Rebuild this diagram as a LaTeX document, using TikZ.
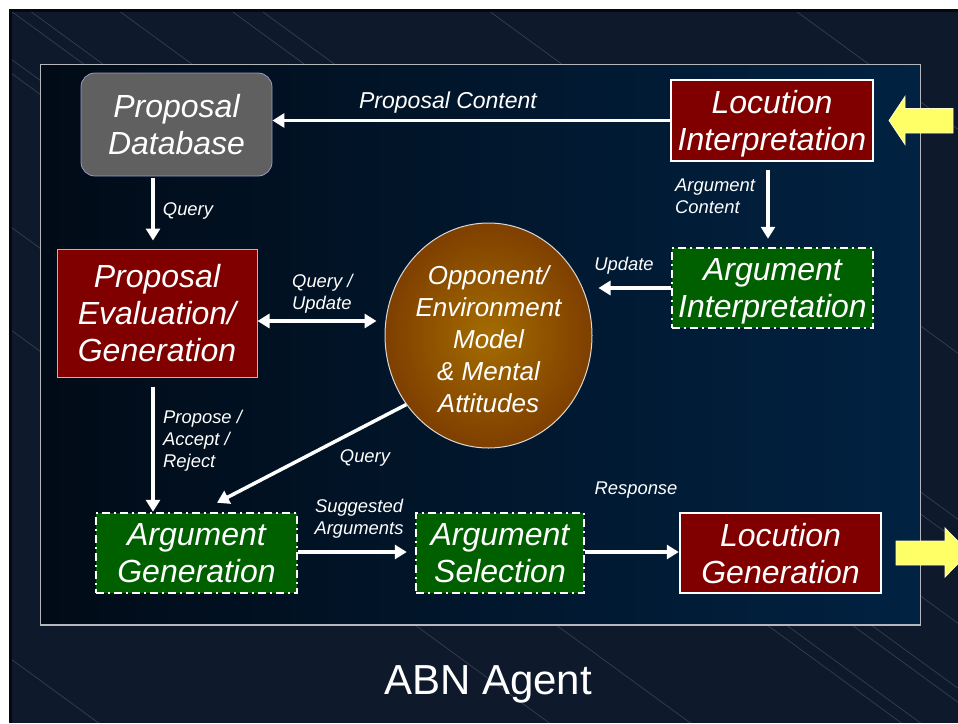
\documentclass[tikz,border=0pt]{standalone}
\usepackage{fontspec}
\setmainfont{Liberation Sans}
\usetikzlibrary{arrows.meta,calc,shapes.geometric}

\definecolor{slidebg}{HTML}{0E1A2B}
\definecolor{slideedge}{HTML}{05080C}
\definecolor{panelL}{HTML}{010B17}
\definecolor{panelR}{HTML}{012242}
\definecolor{panelrim}{HTML}{B4B8BC}
\definecolor{boxred}{HTML}{800000}
\definecolor{boxgreen}{HTML}{006000}
\definecolor{boxgray}{HTML}{606060}
\definecolor{modelin}{HTML}{A46C00}
\definecolor{modelout}{HTML}{7E3F00}
\definecolor{signal}{HTML}{FFFF66}

\tikzset{
  boxtext/.style={text=white, align=center, inner sep=0pt, text depth=0pt,
    font=\fontsize{32}{37}\selectfont\itshape},
  redbox/.style={boxtext, fill=boxred, draw=white, line width=2.5pt},
  evalbox/.style={boxtext, fill=boxred, draw=panelrim, line width=1pt},
  greenbox/.style={boxtext, fill=boxgreen, draw=white, line width=2.5pt,
    dash pattern=on 8pt off 4pt on 2pt off 4pt},
  graybox/.style={boxtext, fill=boxgray, draw=black!60!blue!40, line width=0.8pt,
    rounded corners=14pt},
  modelnode/.style={ellipse, inner sep=0pt, draw=white!85!black, line width=1pt,
    inner color=modelin, outer color=modelout},
  modeltext/.style={text=white, align=center, inner sep=0pt,
    font=\fontsize{26}{32}\selectfont\itshape},
  flow/.style={draw=white, line width=3.5pt, -{Triangle[length=12pt,width=14pt]}},
  flowboth/.style={draw=white, line width=3.5pt,
    {Triangle[length=12pt,width=14pt]}-{Triangle[length=12pt,width=14pt]}},
  lbl/.style={text=white, inner sep=0pt, font=\fontsize{18.4}{22}\selectfont\itshape},
  biglbl/.style={text=white, inner sep=0pt, font=\fontsize{23}{27}\selectfont\itshape},
  bgline/.style={draw=white, opacity=0.16, line width=0.7pt},
  signalarrow/.style={fill=signal, draw=white!80!yellow, line width=0.8pt}
}

\begin{document}
\begin{tikzpicture}[x=1pt,y=-1pt]
\useasboundingbox (0,0) rectangle (958,723);

% slide backdrop
\fill[white] (0,0) rectangle (958,723);
\fill[slideedge] (9,9) rectangle (958,723);
\fill[slidebg] (12,12) rectangle (958,723);
\begin{scope}
  \clip (12,12) rectangle (958,723);
  \foreach \c in {-570,-346,-180,-158,-76,-11,51,219,322,651,3,65}
    \draw[bgline] (0,\c) -- (958,{0.73*958+\c});
\end{scope}

% agent panel
\shade[left color=panelL, right color=panelR] (40.5,64.5) rectangle (920.5,625);
\draw[panelrim, line width=1.5pt] (40.5,64.5) rectangle (920.5,625);

% components
\node[graybox, minimum width=191pt, minimum height=103pt] (pdb) at (176.5,124.5)
  {Proposal\\Database};
\node[redbox, minimum width=202pt, minimum height=81pt] (li) at (772,120.5)
  {Locution\\Interpretation};
\node[evalbox, minimum width=200pt, minimum height=128pt] (pe) at (157,313)
  {Proposal\\Evaluation/\\Generation};
\node[greenbox, minimum width=201pt, minimum height=80pt] (ai) at (772.5,288)
  {Argument\\Interpretation};
\node[modelnode, minimum width=207pt, minimum height=225pt] (ell) at (488.5,335.5) {};
\node[modeltext] (elltext) at ($(ell.center)+(0,3.5)$)
  {Opponent/\\Environment\\Model\\\& Mental\\Attitudes};
\node[greenbox, minimum width=201pt, minimum height=80pt] (ag) at (196.5,553)
  {Argument\\Generation};
\node[greenbox, minimum width=168pt, minimum height=80pt] (as) at (500,553)
  {Argument\\Selection};
\node[redbox, minimum width=201pt, minimum height=80pt] (lg) at (780.5,553)
  {Locution\\Generation};

% connector end points
\coordinate (pdbout) at ($(pdb.south)+(-23.5,0)$);
\coordinate (liout)  at ($(li.south)+(-4,0)$);
\coordinate (peside) at ($(pe.east)+(0,8)$);
\coordinate (peout)  at ($(pe.south)+(-4,0)$);
\coordinate (agin)   at ($(ag.north)+(20.5,-9)$);
\coordinate (agout)  at ($(ag.east)+(0,-1)$);
\coordinate (asout)  at ($(as.east)+(0,-1)$);

% connectors
\draw[flow] (li.west) -- (li.west -| pdb.east);
\draw[flow, shorten <=2pt, shorten >=8pt] (pdbout) -- (pdbout |- pe.north);
\draw[flow, shorten <=8pt, shorten >=8pt] (liout) -- (liout |- ai.north);
\draw[flow, shorten >=6pt] (ai.west) -- (ai.west -| ell.east);
\draw[flowboth, shorten >=8pt] (peside) -- (peside -| ell.west);
\draw[flow, shorten <=9pt] (peout) -- (peout |- ag.north);
\draw[flow] (ell.220) -- (agin);
\draw[flow, shorten >=8pt] (agout) -- (agout -| as.west);
\draw[flow] (asout) -- (asout -| lg.west);

% connector labels
\node[biglbl] (tpc) at (448,102.5) {Proposal Content};
\node[lbl] (tq1) at (188,210.5) {Query};
\node[lbl, anchor=west, align=left] (tac) at (675,196.5) {Argument\\Content};
\node[lbl] (tup) at (624,266) {Update};
\node[lbl, anchor=west, align=left] (tqu) at (292,293.5) {Query /\\Update};
\node[lbl, anchor=west, align=left] (tpar) at (163,441) {Propose /\\Accept /\\Reject};
\node[lbl] (tq2) at (365,458) {Query};
\node[lbl, align=center] (tsa) at (359,519) {Suggested\\Arguments};
\node[lbl] (tre) at (636,490) {Response};

% incoming and outgoing signals
\draw[signalarrow] (889,120.5) -- (905,96.5) -- (905,108.5) -- (953,108.5)
  -- (953,133) -- (905,133) -- (905,144.5) -- cycle;
\draw[signalarrow] (896,541) -- (945,541) -- (945,528) -- (969,552.5)
  -- (945,577) -- (945,565) -- (896,565) -- cycle;

% title
\node[text=white, font=\fontsize{42}{48}\selectfont] (title) at (488,684) {ABN Agent};
\end{tikzpicture}
\end{document}
